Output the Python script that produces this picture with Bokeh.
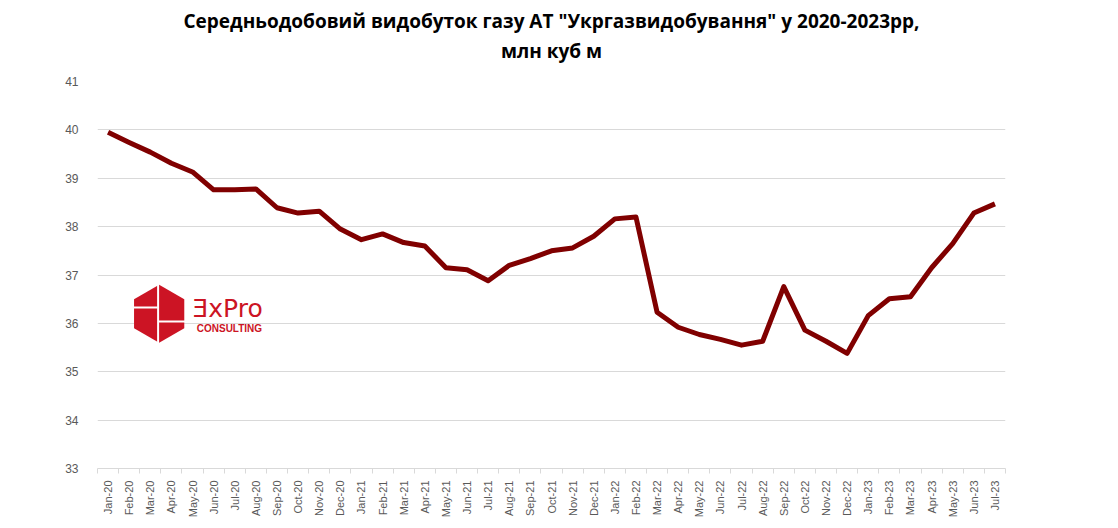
from math import pi
from bokeh.plotting import figure
from bokeh.models import FixedTicker, Label, Range1d, Title
from bokeh.embed import file_html
from bokeh.resources import INLINE

months = ["Jan-20", "Feb-20", "Mar-20", "Apr-20", "May-20", "Jun-20", "Jul-20", "Aug-20",
          "Sep-20", "Oct-20", "Nov-20", "Dec-20", "Jan-21", "Feb-21", "Mar-21", "Apr-21",
          "May-21", "Jun-21", "Jul-21", "Aug-21", "Sep-21", "Oct-21", "Nov-21", "Dec-21",
          "Jan-22", "Feb-22", "Mar-22", "Apr-22", "May-22", "Jun-22", "Jul-22", "Aug-22",
          "Sep-22", "Oct-22", "Nov-22", "Dec-22", "Jan-23", "Feb-23", "Mar-23", "Apr-23",
          "May-23", "Jun-23", "Jul-23"]
production = [39.95, 39.74, 39.54, 39.31, 39.13, 38.76, 38.76, 38.78,
              38.39, 38.28, 38.32, 37.95, 37.73, 37.85, 37.67, 37.60,
              37.15, 37.11, 36.88, 37.20, 37.34, 37.50, 37.56, 37.80,
              38.16, 38.20, 36.23, 35.92, 35.77, 35.67, 35.55, 35.63,
              36.76, 35.86, 35.63, 35.38, 36.16, 36.51, 36.55, 37.15,
              37.65, 38.28, 38.47]
y_ticks = [33, 34, 35, 36, 37, 38, 39, 40, 41]
title_line1 = 'Середньодобовий видобуток газу АТ "Укргазвидобування" у 2020-2023рр,'
title_line2 = 'млн куб м'

xs = list(range(len(months)))

W, H = 1110, 520
ML, MR, MT, MB = 97, 105, 81, 50

p = figure(width=W, height=H, output_backend="svg", toolbar_location=None, title=None,
           x_range=Range1d(-0.5, len(months) - 0.5), y_range=Range1d(33, 41),
           min_border_left=ML, min_border_right=MR, min_border_top=MT, min_border_bottom=MB)
p.outline_line_color = None
p.background_fill_color = "white"

# title: two centred lines (first added sits closest to the plot)
p.add_layout(Title(text=title_line2, align="center", text_font="Open Sans",
                   text_font_style="bold", text_font_size="19px", text_color="#000000",
                   standoff=35), "above")
p.add_layout(Title(text=title_line1, align="center", text_font="Open Sans",
                   text_font_style="bold", text_font_size="19px", text_color="#000000",
                   standoff=-31), "above")

# y axis
p.yaxis.ticker = FixedTicker(ticks=y_ticks)
p.yaxis.axis_line_color = None
p.yaxis.major_tick_line_color = None
p.yaxis.minor_tick_line_color = None
p.yaxis.major_label_text_font = "Liberation Sans"
p.yaxis.major_label_text_font_size = "12px"
p.yaxis.major_label_text_color = "#595959"
p.yaxis.major_label_standoff = 13
p.ygrid.grid_line_color = "#d9d9d9"
p.ygrid.grid_line_width = 1

# x axis
p.xaxis.ticker = FixedTicker(ticks=xs, minor_ticks=[i - 0.5 for i in range(len(months) + 1)])
p.xaxis.major_label_overrides = {i: m for i, m in enumerate(months)}
p.xaxis.major_label_orientation = pi / 2
p.xaxis.axis_line_color = "#d9d9d9"
p.xaxis.major_tick_line_color = None
p.xaxis.minor_tick_line_color = "#d9d9d9"
p.xaxis.minor_tick_out = 5
p.xaxis.minor_tick_in = 0
p.xaxis.major_label_text_font = "Liberation Sans"
p.xaxis.major_label_text_font_size = "11px"
p.xaxis.major_label_text_color = "#595959"
p.xaxis.major_label_standoff = 6
p.xgrid.grid_line_color = None

# logo (decoration)
p.scatter(x=[2.42], y=[36.2], marker="hex", size=58, angle=pi / 2,
          fill_color="#cc1424", line_color=None)
p.segment(x0=[2.37, 1.2, 2.37], y0=[36.80, 36.33, 36.04],
          x1=[2.37, 2.37, 3.65], y1=[35.58, 36.33, 36.04],
          line_color="white", line_width=2)
p.add_layout(Label(x=4.0, y=36.0, text="ƎxPro", text_font="DejaVu Sans",
                   text_font_size="25px", text_color="#cc1424"))
p.add_layout(Label(x=4.2, y=35.78, text="CONSULTING", text_font="Liberation Sans",
                   text_font_style="bold", text_font_size="10px", text_color="#cc1424"))

# data line
p.line(xs, production, line_color="#800000", line_width=5, line_join="round")

open("out.html", "w").write(file_html(p, INLINE))
